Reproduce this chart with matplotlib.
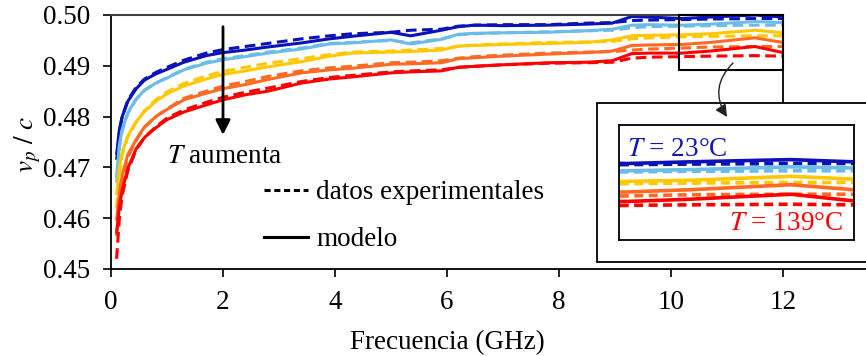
import matplotlib
matplotlib.use("Agg")
import matplotlib.pyplot as plt
from matplotlib.patches import Rectangle, FancyArrowPatch
from matplotlib.lines import Line2D

plt.rcParams['font.family'] = ['Liberation Serif', 'DejaVu Serif']
plt.rcParams['mathtext.fontset'] = 'stix'

# ---------------- data ----------------
freq = [0.1, 0.15, 0.2, 0.3, 0.45, 0.6, 0.8, 1.0, 1.3, 1.7, 2.0, 2.4, 2.8, 3.4, 3.9, 4.3,
        5.0, 5.35, 5.9, 6.2, 6.5, 7.0, 7.8, 8.5, 8.95, 9.3, 9.6, 10.2, 10.7, 11.5, 12.0]

# model (solid)
mod_23 = [0.4725, 0.4775, 0.4800, 0.4830, 0.4855, 0.4872, 0.4884, 0.4893, 0.4907, 0.4920, 0.4926,
          0.4931, 0.4937, 0.4945, 0.4953, 0.4958, 0.4966, 0.4959, 0.4970, 0.4977, 0.4980, 0.4979,
          0.4980, 0.4982, 0.4984, 0.4997, 0.4996, 0.4993, 0.4996, 0.5000, 0.4996]
mod_t2 = [0.4680, 0.4745, 0.4775, 0.4808, 0.4835, 0.4852, 0.4866, 0.4876, 0.4892, 0.4905, 0.4912,
          0.4918, 0.4925, 0.4933, 0.4943, 0.4945, 0.4951, 0.4943, 0.4952, 0.4962, 0.4964, 0.4965,
          0.4966, 0.4969, 0.4972, 0.4980, 0.4981, 0.4980, 0.4982, 0.4987, 0.4985]
mod_t3 = [0.4645, 0.4700, 0.4730, 0.4762, 0.4790, 0.4810, 0.4830, 0.4845, 0.4860, 0.4874, 0.4883,
          0.4890, 0.4898, 0.4908, 0.4919, 0.4925, 0.4927, 0.4928, 0.4931, 0.4939, 0.4940, 0.4942,
          0.4944, 0.4946, 0.4951, 0.4959, 0.4960, 0.4961, 0.4963, 0.4970, 0.4965]
mod_t4 = [0.4595, 0.4650, 0.4685, 0.4725, 0.4755, 0.4780, 0.4800, 0.4814, 0.4833, 0.4846, 0.4855,
          0.4863, 0.4873, 0.4886, 0.4892, 0.4895, 0.4903, 0.4904, 0.4906, 0.4914, 0.4916, 0.4919,
          0.4923, 0.4926, 0.4929, 0.4940, 0.4941, 0.4942, 0.4946, 0.4955, 0.4946]
mod_139 = [0.4570, 0.4625, 0.4655, 0.4698, 0.4737, 0.4759, 0.4778, 0.4794, 0.4809, 0.4823, 0.4833,
           0.4843, 0.4850, 0.4866, 0.4874, 0.4878, 0.4886, 0.4888, 0.4890, 0.4897, 0.4899, 0.4902,
           0.4906, 0.4907, 0.4910, 0.4924, 0.4925, 0.4925, 0.4929, 0.4938, 0.4926]

# experimental (dashed)
exp_23 = [0.4715, 0.4770, 0.4800, 0.4832, 0.4858, 0.4874, 0.4887, 0.4897, 0.4911, 0.4925, 0.4932,
          0.4938, 0.4944, 0.4953, 0.4959, 0.4963, 0.4966, 0.4970, 0.4972, 0.4978, 0.4980, 0.4981,
          0.4981, 0.4984, 0.4985, 0.4989, 0.4990, 0.4991, 0.4992, 0.4993, 0.4993]
exp_t2 = [0.4670, 0.4740, 0.4772, 0.4806, 0.4834, 0.4852, 0.4866, 0.4877, 0.4893, 0.4907, 0.4914,
          0.4920, 0.4927, 0.4935, 0.4944, 0.4946, 0.4950, 0.4945, 0.4953, 0.4961, 0.4963, 0.4965,
          0.4967, 0.4969, 0.4970, 0.4975, 0.4977, 0.4978, 0.4979, 0.4980, 0.4980]
exp_t3 = [0.4620, 0.4690, 0.4725, 0.4760, 0.4790, 0.4812, 0.4833, 0.4849, 0.4865, 0.4880, 0.4889,
          0.4897, 0.4905, 0.4914, 0.4922, 0.4927, 0.4929, 0.4931, 0.4934, 0.4938, 0.4941, 0.4943,
          0.4946, 0.4947, 0.4948, 0.4953, 0.4955, 0.4957, 0.4958, 0.4959, 0.4959]
exp_t4 = [0.4565, 0.4635, 0.4675, 0.4720, 0.4753, 0.4779, 0.4800, 0.4815, 0.4836, 0.4850, 0.4860,
          0.4869, 0.4879, 0.4890, 0.4896, 0.4899, 0.4906, 0.4907, 0.4910, 0.4915, 0.4918, 0.4921,
          0.4925, 0.4927, 0.4928, 0.4931, 0.4933, 0.4935, 0.4937, 0.4938, 0.4938]
exp_139 = [0.4520, 0.4600, 0.4645, 0.4693, 0.4735, 0.4759, 0.4780, 0.4797, 0.4813, 0.4828, 0.4838,
           0.4848, 0.4856, 0.4869, 0.4877, 0.4881, 0.4888, 0.4890, 0.4892, 0.4897, 0.4899, 0.4902,
           0.4905, 0.4906, 0.4907, 0.4915, 0.4917, 0.4918, 0.4919, 0.4920, 0.4919]

models = [mod_23, mod_t2, mod_t3, mod_t4, mod_139]
exps = [exp_23, exp_t2, exp_t3, exp_t4, exp_139]
colors = ['#0A12B8', '#6CBDE6', '#FFC800', '#FF6A22', '#FF0000']

x_ticks = [0, 2, 4, 6, 8, 10, 12]
y_ticks = [0.45, 0.46, 0.47, 0.48, 0.49, 0.50]
zoom_x = (10.14, 12.0)
zoom_y = (0.4892, 0.5000)

FS = 19.5
DASH = (3.5, 1.8)

# ---------------- figure ----------------
fig = plt.figure(figsize=(8.66, 3.56), dpi=100)
W, H = 866.0, 356.0
ax = fig.add_axes([111 / W, 1 - 269 / H, (866 - 111) / W, (269 - 15) / H])

for m, e, c in zip(models, exps, colors):
    ax.plot(freq, m, color=c, lw=2.2, solid_capstyle='butt')
    ax.plot(freq, e, color=c, lw=2.2, dashes=DASH)

ax.set_xlim(0, (866 - 111) / 56.0)
ax.set_ylim(0.45, 0.50)
ax.set_xticks(x_ticks)
ax.set_xticklabels([str(t) for t in x_ticks])
ax.set_yticks(y_ticks)
ax.set_yticklabels(['%.2f' % t for t in y_ticks])
ax.tick_params(axis='both', direction='out', length=6, width=1.2, labelsize=FS, pad=9)

for s in ['left', 'bottom']:
    ax.spines[s].set_linewidth(1.3)
    ax.spines[s].set_color('black')
ax.spines['right'].set_visible(False)
ax.spines['top'].set_bounds(0, 12)
ax.spines['top'].set_color('#404040')
ax.spines['top'].set_linewidth(1.5)

ax.set_xlabel('Frecuencia (GHz)', fontsize=FS)
ax.xaxis.set_label_coords(0.445, -0.24)
ax.set_ylabel(r'$v_p\ /\ c$', fontsize=FS)
ax.yaxis.set_label_coords(-0.09, 0.49)

# T aumenta arrow
ax.annotate('', xy=(2.0, 0.4764), xytext=(2.0, 0.4977),
            arrowprops=dict(arrowstyle='-|>', lw=2.0, color='black',
                            mutation_scale=22, shrinkA=0, shrinkB=0))
ax.text(2.04, 0.4722, r'$T$ aumenta', fontsize=FS, ha='center', va='center')

# legend
handles = [Line2D([], [], color='black', lw=2.2, dashes=(2.0, 1.2)),
           Line2D([], [], color='black', lw=2.2)]
ax.legend(handles, ['datos experimentales', 'modelo'], loc='upper left',
          bbox_to_anchor=(0.203, 0.35), frameon=False, fontsize=FS,
          handlelength=1.6, handletextpad=0.32, labelspacing=0.82,
          borderpad=0, borderaxespad=0)

# zoom rectangle and connector
ax.add_patch(Rectangle((zoom_x[0], zoom_y[0]), zoom_x[1] - zoom_x[0], zoom_y[1] - zoom_y[0],
                       fill=False, ec='black', lw=1.5, clip_on=False, zorder=5))
ax.plot([zoom_x[1], zoom_x[1]], [zoom_y[0], 0.50 - 88 / 5080.0], color='black', lw=1.3,
        clip_on=False, zorder=5)

# inset outer frame
fig.add_artist(Rectangle((597 / W, 1 - 262 / H), 0.4, (262 - 103) / H,
                         transform=fig.transFigure, fc='white', ec='black', lw=1.3, zorder=1))

# inset axes
axi = fig.add_axes([619 / W, 1 - 240 / H, 235 / W, 115 / H], zorder=2)
for m, e, c in zip(models, exps, colors):
    axi.plot(freq, m, color=c, lw=2.6)
    axi.plot(freq, e, color=c, lw=2.6, dashes=(2.5, 1.5))
axi.set_xlim(zoom_x)
axi.set_ylim(0.4856, 0.5062)
axi.set_xticks([])
axi.set_yticks([])
for s in axi.spines.values():
    s.set_linewidth(1.3)
axi.text(0.035, 0.79, r'$T$ = 23°C', transform=axi.transAxes, fontsize=FS,
         color='#1414B4', ha='left', va='center')
axi.text(0.955, 0.14, r'$T$ = 139°C', transform=axi.transAxes, fontsize=FS,
         color='#FF0000', ha='right', va='center')

# curved arrow from zoom box to inset
arr = FancyArrowPatch((733 / W, 1 - 63 / H), (727 / W, 1 - 117 / H),
                      transform=fig.transFigure, connectionstyle='arc3,rad=0.4',
                      arrowstyle='-|>', mutation_scale=18, lw=1.0, color='#222222',
                      shrinkA=0, shrinkB=0, zorder=5)
fig.add_artist(arr)

fig.savefig('out.png', dpi=100)
